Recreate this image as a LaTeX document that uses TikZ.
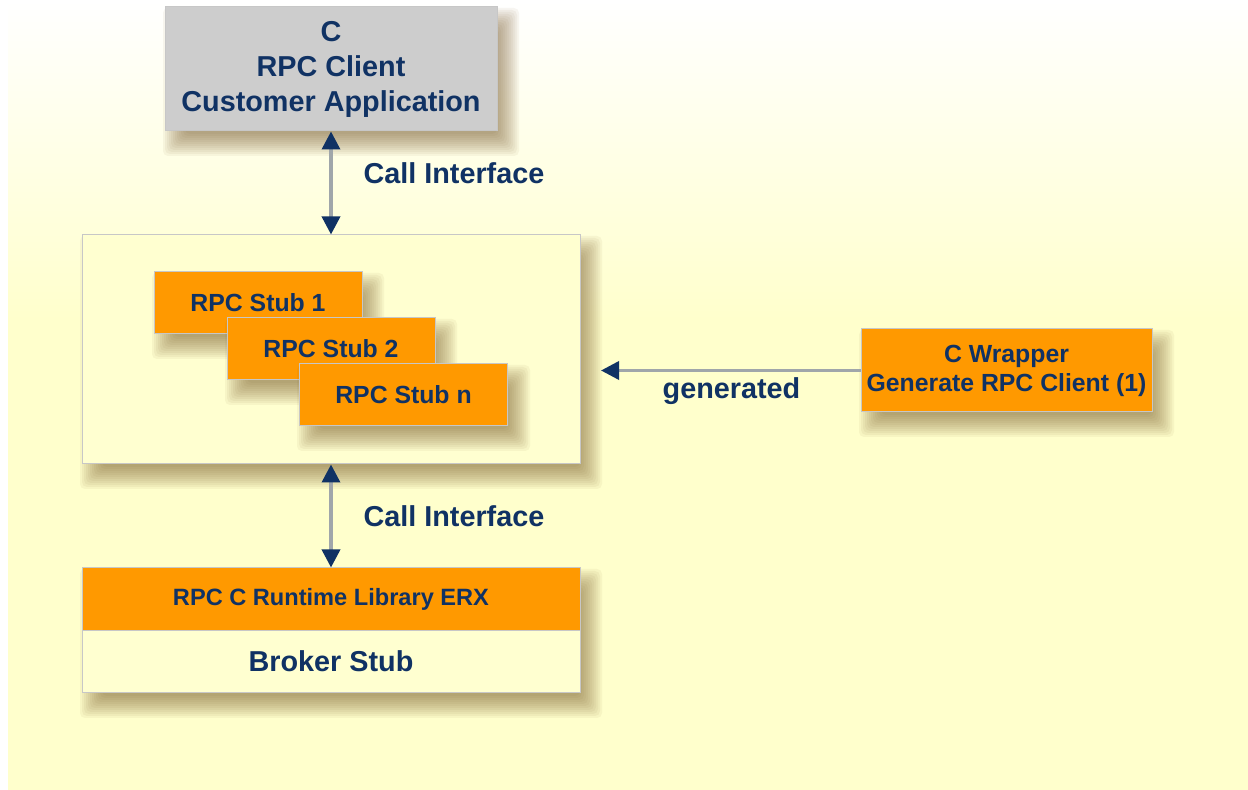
\documentclass[tikz,border=0pt]{standalone}
\usepackage{fontspec}
\setmainfont{Liberation Sans}
\usetikzlibrary{arrows.meta}
\definecolor{bgyellow}{RGB}{255,255,204}
\definecolor{boxyellow}{RGB}{255,255,208}
\definecolor{rpcorange}{RGB}{255,153,0}
\definecolor{clientgrey}{RGB}{205,205,205}
\definecolor{navy}{RGB}{16,50,100}
\definecolor{shaftgrey}{RGB}{160,166,170}
\definecolor{shadowbrown}{RGB}{110,80,30}
% soft shadow of a box: lower left x,y and upper right x,y
\newcommand\softshadow[4]{%
	\foreach \k in {0,...,11}
		\fill [shadowbrown,opacity=0.055,rounded corners=5pt]
			({#1-2+2*\k},{#2-25+2*\k}) rectangle ({#3+22-2*\k},{#4-1-2*\k});
}
\begin{document}
\begin{tikzpicture} [x=1pt,y=1pt,every node/.style={text=navy},
		bigtext/.style={font=\fontsize{28.8}{35}\selectfont\bfseries},
		smalltext/.style={font=\fontsize{24.8}{29}\selectfont\bfseries},
		box/.style={draw=black!22,line width=1pt,inner sep=0pt,align=center},
		stubbox/.style={box,smalltext,fill=rpcorange,minimum width=208,minimum height=62},
		link/.style={draw=shaftgrey,line width=3.5pt},
		biarrow/.style={link,{Triangle[width=18pt,length=18pt,color=navy]}-{Triangle[width=18pt,length=18pt,color=navy]}},
		onearrow/.style={link,-{Triangle[width=18pt,length=18pt,color=navy]}}]
		% background
		\fill [bgyellow] (0,0) rectangle (1248,790);
		\shade [top color=white,bottom color=bgyellow] (0,470) rectangle (1248,790);
		\fill [white] (0,0) rectangle (8,790);
		% client
		\softshadow{165}{659}{497}{783}
		\node [box,bigtext,fill=clientgrey,minimum width=332,minimum height=124] (client) at (331,721)
			{C\\RPC Client\\Customer Application};
		% stubs
		\softshadow{82}{326}{580}{555}
		\node [box,fill=boxyellow,minimum width=498,minimum height=229] (stubs) at (331,440.5) {};
		\softshadow{154}{456}{362}{518}
		\node [stubbox] (stub1) at (258,487) {RPC Stub 1};
		\softshadow{227}{410}{435}{472}
		\node [stubbox] (stub2) at (331,441) {RPC Stub 2};
		\softshadow{299}{364}{508}{426}
		\node [stubbox] (stubn) at (403.5,395) {RPC Stub n};
		% runtime and broker
		\softshadow{82}{97}{580}{222}
		\node [box,fill=rpcorange,minimum width=498,minimum height=63,
			font=\fontsize{23.6}{28}\selectfont\bfseries] (runtime) at (331,190.5) {RPC C Runtime Library ERX};
		\node [box,bigtext,fill=boxyellow,minimum width=498,minimum height=62] (broker) at (331,128.5) {Broker Stub};
		% wrapper
		\softshadow{861}{378}{1152}{461}
		\node [box,smalltext,fill=rpcorange,minimum width=291,minimum height=83] (wrapper) at (1006.5,419.5)
			{C Wrapper\\Generate RPC Client (1)};
		\coordinate (genend) at (601,419.5);
		% connectors
		\draw [biarrow] (client.south) -- (stubs.north);
		\draw [biarrow] (stubs.south) -- (runtime.north);
		\draw [onearrow] (wrapper.west) -- (genend);
		\node [bigtext,anchor=west] (call1) at (360,617) {Call Interface};
		\node [bigtext,anchor=west] (call2) at (360,274) {Call Interface};
		\node [bigtext] (gen) at (731.5,399) {generated};
	\end{tikzpicture}
\end{document}
